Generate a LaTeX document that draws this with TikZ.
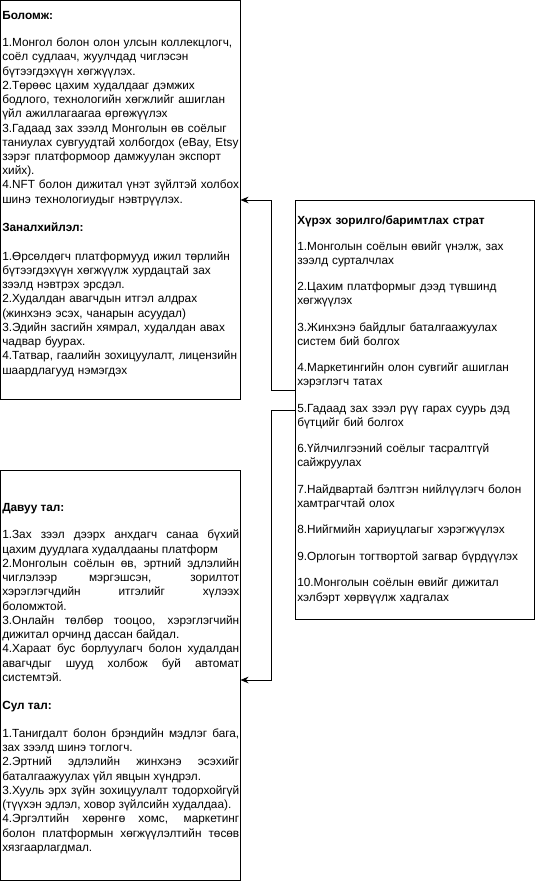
\documentclass[tikz,border=0pt]{standalone}
\usepackage{fontspec}
\setsansfont{Liberation Sans}
\usepackage{tikz}
\usetikzlibrary{arrows.meta}
\tolerance=10000

\begin{document}
\begin{tikzpicture}[x=0.75pt,y=-0.75pt,font=\sffamily]
    \tikzstyle{panel}=[draw, line width=0.75pt, inner sep=0pt, outer sep=0pt, anchor=north west]
    \tikzstyle{txt}=[inner sep=0pt, anchor=base west, text width=182pt, align=left, font=\sffamily\fontsize{8.85pt}{10.68pt}\selectfont]
    \tikzstyle{link}=[line width=0.75pt, -{Stealth[length=6pt,width=5pt]}]
    \useasboundingbox (0,0) rectangle (536,882);
    \node[panel, minimum width=180pt, minimum height=299.25pt] (boloomj) at (0.5,0.5) {};
    \node[panel, minimum width=179.25pt, minimum height=314.6pt] (strat) at (295.5,200.5) {};
    \node[panel, minimum width=180pt, minimum height=307.5pt] (davuu) at (0.5,470) {};
    \node[txt] (boloomjtxt) at ([shift={(1.5,18.5)}]boloomj.north west) {\textbf{Боломж:}\\[10pt]
        1.Монгол болон олон улсын коллекцлогч,\\
        соёл судлаач, жуулчдад чиглэсэн\\
        бүтээгдэхүүн хөгжүүлэх.\\
        2.Төрөөс цахим худалдааг дэмжих\\
        бодлого, технологийн хөгжлийг ашиглан\\
        үйл ажиллагаагаа өргөжүүлэх\\
        3.Гадаад зах зээлд Монголын өв соёлыг\\
        таниулах сувгуудтай холбогдох (eBay, Etsy\\
        зэрэг платформоор дамжуулан экспорт\\
        хийх).\\
        4.NFT болон дижитал үнэт зүйлтэй холбох\\
        шинэ технологиудыг нэвтрүүлэх.\\[10.68pt]
        \textbf{Заналхийлэл:}\\[10.68pt]
        1.Өрсөлдөгч платформууд ижил төрлийн\\
        бүтээгдэхүүн хөгжүүлж хурдацтай зах\\
        зээлд нэвтрэх эрсдэл.\\
        2.Худалдан авагчдын итгэл алдрах\\
        (жинхэнэ эсэх, чанарын асуудал)\\
        3.Эдийн засгийн хямрал, худалдан авах\\
        чадвар буурах.\\
        4.Татвар, гаалийн зохицуулалт, лицензийн\\
        шаардлагууд нэмэгдэх};
    \node[txt] (strattxt) at ([shift={(1.5,23.5)}]strat.north west) {\textbf{Хүрэх зорилго/баримтлах страт}\\[9pt]
        1.Монголын соёлын өвийг үнэлж, зах\\
        зээлд сурталчлах\\[9pt]
        2.Цахим платформыг дээд түвшинд\\
        хөгжүүлэх\\[9pt]
        3.Жинхэнэ байдлыг баталгаажуулах\\
        систем бий болгох\\[9pt]
        4.Маркетингийн олон сувгийг ашиглан\\
        хэрэглэгч татах\\[9pt]
        5.Гадаад зах зээл рүү гарах суурь дэд\\
        бүтцийг бий болгох\\[9pt]
        6.Үйлчилгээний соёлыг тасралтгүй\\
        сайжруулах\\[9pt]
        7.Найдвартай бэлтгэн нийлүүлэгч болон\\
        хамтрагчтай олох\\[9pt]
        8.Нийгмийн хариуцлагыг хэрэгжүүлэх\\[9.3pt]
        9.Орлогын тогтвортой загвар бүрдүүлэх\\[9.3pt]
        10.Монголын соёлын өвийг дижитал\\
        хэлбэрт хөрвүүлж хадгалах};
    \node[txt, text width=177.75pt, align=justify] (davuutxt) at ([shift={(1.5,41)}]davuu.north west) {\textbf{Давуу тал:}\\[10.3pt]
        1.Зах зээл дээрх анхдагч санаа бүхий \linebreak
        цахим дуудлага худалдааны платформ\\
        2.Монголын соёлын өв, эртний эдлэлийн \linebreak
        чиглэлээр мэргэшсэн, зорилтот \linebreak
        хэрэглэгчдийн итгэлийг хүлээх \linebreak
        боломжтой.\\
        3.Онлайн төлбөр тооцоо, хэрэглэгчийн \linebreak
        дижитал орчинд дассан байдал.\\
        4.Хараат бус борлуулагч болон худалдан \linebreak
        авагчдыг шууд холбож буй автомат \linebreak
        системтэй.\\[10.3pt]
        \textbf{Сул тал:}\\[10.3pt]
        1.Танигдалт болон брэндийн мэдлэг бага, \linebreak
        зах зээлд шинэ тоглогч.\\
        2.Эртний эдлэлийн жинхэнэ эсэхийг \linebreak
        баталгаажуулах үйл явцын хүндрэл.\\
        3.Хууль эрх зүйн зохицуулалт тодорхойгүй \linebreak
        (түүхэн эдлэл, ховор зүйлсийн худалдаа).\\
        4.Эргэлтийн хөрөнгө хомс, маркетинг \linebreak
        болон платформын хөгжүүлэлтийн төсөв \linebreak
        хязгаарлагдмал.};
    \draw[link] ([yshift=15pt]strat.west) -- ++(-24,0) |- (boloomj.east);
    \draw[link] (strat.west) -- ++(-24,0) |- ([yshift=-3.75pt]davuu.east);
\end{tikzpicture}
\end{document}
